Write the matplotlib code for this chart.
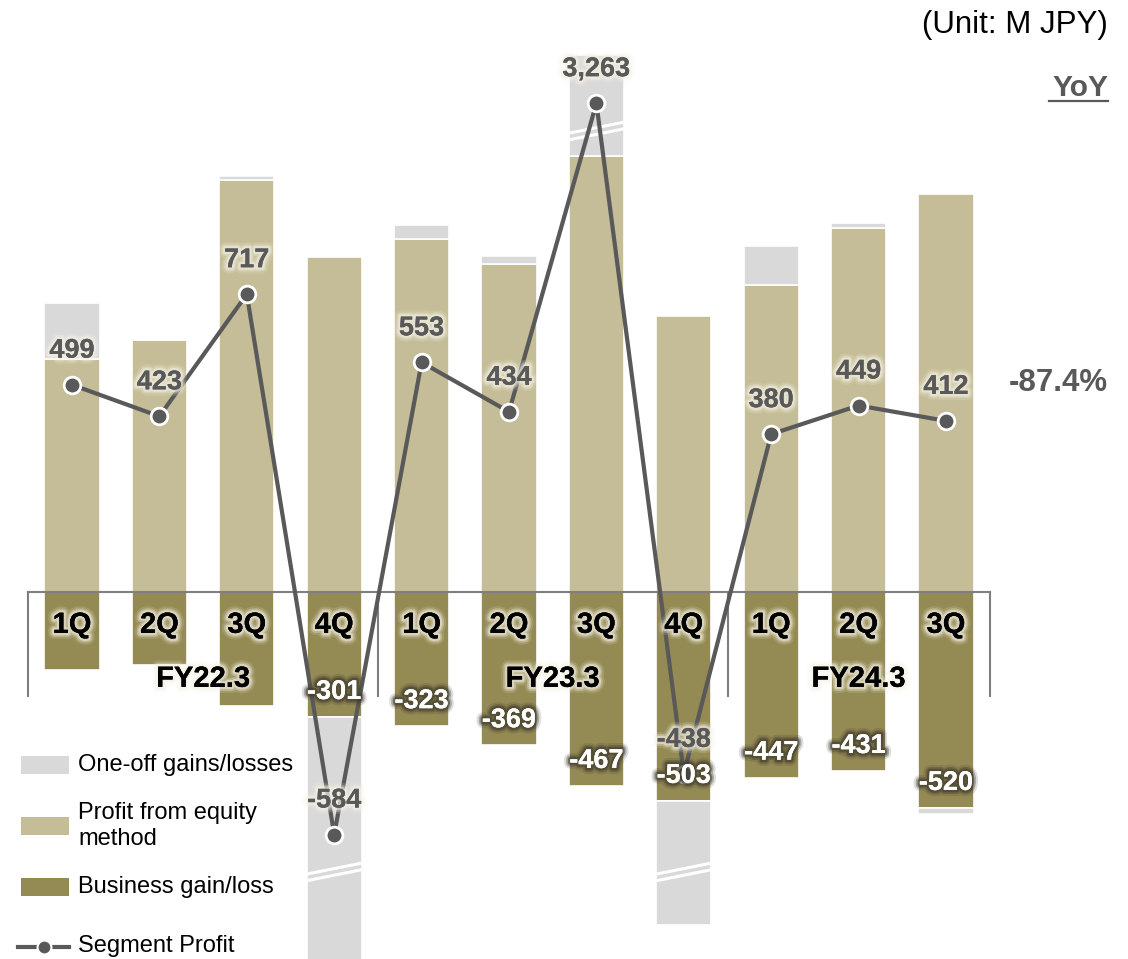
import numpy as np
import matplotlib
matplotlib.use("Agg")
import matplotlib.pyplot as plt
import matplotlib.patheffects as pe
from matplotlib.lines import Line2D
from matplotlib.patches import Rectangle

plt.rcParams["font.family"] = ["Liberation Sans", "DejaVu Sans"]

# quarterly figures, M JPY
quarters = ["1Q", "2Q", "3Q", "4Q", "1Q", "2Q", "3Q", "4Q", "1Q", "2Q", "3Q"]
years = ["FY22.3", "FY23.3", "FY24.3"]
year_len = [4, 4, 3]
business = [-188, -176, -275, -301, -323, -369, -467, -503, -447, -431, -520]
equity = [561, 607, 992, 807, 850, 790, 1050, 665, 739, 876, 958]
one_off = [135, 0, 10, -1090, 34, 19, 2680, -600, 94, 12, -15]
segment = [499, 423, 717, -584, 553, 434, 3263, -438, 380, 449, 412]
business_labeled = [False, False, False, True, True, True, True, True, True, True, True]
yoy = "-87.4%"

C_ONEOFF = "#D9D9D9"
C_EQUITY = "#C4BD97"
C_BUSINESS = "#948A54"
C_LINE = "#595959"
C_AXIS = "#7F7F7F"

# broken axis: values past the breaks are squeezed
BREAK_HI, K_HI = 1110, 0.0698
BREAK_LO, K_LO = -674, 0.298
LINE_CAP = 1177


def squash(v):
    v = np.asarray(v, dtype=float)
    out = v.copy()
    hi = v > BREAK_HI
    out[hi] = BREAK_HI + (v[hi] - BREAK_HI) * K_HI
    lo = v < BREAK_LO
    out[lo] = BREAK_LO + (v[lo] - BREAK_LO) * K_LO
    return out


def glow(color, strength=1.0):
    return [pe.withStroke(linewidth=9, foreground=color, alpha=0.15 * strength),
            pe.withStroke(linewidth=6, foreground=color, alpha=0.3 * strength),
            pe.withStroke(linewidth=3.5, foreground=color, alpha=0.5 * strength),
            pe.Normal()]


W, H = 1128, 959
fig = plt.figure(figsize=(W / 100, H / 100), dpi=100)
ax = fig.add_axes([0, 0, 1, 1])
ax.axis("off")
PX_X, X0 = 87.4, 72
PX_Y, Y0 = 0.4153, 592
ax.set_xlim(-X0 / PX_X, (W - X0) / PX_X)
ax.set_ylim(-(H - Y0) / PX_Y, Y0 / PX_Y)

x = np.arange(len(quarters))
bw = 0.63
business = np.array(business, float)
equity = np.array(equity, float)
one_off = np.array(one_off, float)
segment = np.array(segment, float)

# stacked pieces: (bottom, top) in data units before squashing
oo_bottom = np.where(one_off >= 0, equity, business)
oo_top = oo_bottom + one_off
pieces = [
    (np.zeros_like(business), business, C_BUSINESS),
    (np.zeros_like(equity), equity, C_EQUITY),
    (oo_bottom, oo_top, C_ONEOFF),
]
for lo_v, hi_v, col in pieces:
    b = squash(lo_v)
    t = squash(hi_v)
    ax.bar(x, t - b, bottom=b, width=bw, color=col, edgecolor="white",
           linewidth=1.2, zorder=2)

# break marks on the squeezed bars
top_all = np.maximum(oo_top, equity)
bot_all = np.minimum(oo_top, business)
rise, gap = 26.5, 16
for i in x:
    for brk, hit in ((BREAK_HI, top_all[i] > BREAK_HI), (BREAK_LO, bot_all[i] < BREAK_LO)):
        if not hit:
            continue
        for off in (-gap / 2, gap / 2):
            ax.plot([i - bw / 2, i + bw / 2], [brk + off - rise / 2, brk + off + rise / 2],
                    color="white", lw=2.2, solid_capstyle="butt", zorder=3)

# category axis
sep = np.concatenate([[0], np.cumsum(year_len)]) - 0.5
ax.plot([sep[0], sep[-1]], [0, 0], color=C_AXIS, lw=1.5, zorder=4)
for s in sep:
    ax.plot([s, s], [0, -250], color=C_AXIS, lw=1.5, zorder=4)

light = glow("#F6F3E6")
dark = glow("#3F3B2C", 1.1)

for i, q in enumerate(quarters):
    ax.text(i, -79, q, ha="center", va="center", fontsize=21, fontweight="bold",
            color="black", path_effects=light, zorder=6)
for k, name in enumerate(years):
    mid = (sep[k] + sep[k + 1]) / 2
    ax.text(mid, -209, name, ha="center", va="center", fontsize=21,
            fontweight="bold", color="black", path_effects=light, zorder=6)

# segment profit line
line_y = np.minimum(segment, LINE_CAP)
ax.plot(x, line_y, color=C_LINE, lw=3.0, zorder=5)
ax.plot(x, line_y, "o", color=C_LINE, ms=12, mec="white", mew=2.0, zorder=5.5)
for i, v in enumerate(segment):
    ax.annotate(f"{int(v):,}", (i, line_y[i]), xytext=(0, 24.5),
                textcoords="offset points", ha="center", va="center",
                fontsize=19.5, fontweight="bold", color=C_LINE,
                path_effects=light, zorder=7)

for i, v in enumerate(business):
    if business_labeled[i]:
        ax.annotate(f"{int(v):,}", (i, v), xytext=(0, 18),
                    textcoords="offset points", ha="center", va="center",
                    fontsize=19.5, fontweight="bold", color="white",
                    path_effects=dark, zorder=8)

# header texts
fig.text(1108 / W, 1 - 25 / H, "(Unit: M JPY)", ha="right", va="center",
         fontsize=22.5, color="black")
fig.text(1108 / W, 1 - 88 / H, "YoY", ha="right", va="center", fontsize=21.5,
         fontweight="bold", color=C_LINE)
fig.add_artist(Line2D([1049 / W, 1108 / W], [1 - 101 / H, 1 - 101 / H],
                      color=C_LINE, lw=1.6))
fig.text(1108 / W, 1 - 383 / H, yoy, ha="right", va="center", fontsize=22.5,
         fontweight="bold", color=C_LINE)

# legend
leg_items = [(C_ONEOFF, "One-off gains/losses", 765),
             (C_EQUITY, "Profit from equity\nmethod", 826),
             (C_BUSINESS, "Business gain/loss", 887)]
for col, label, yc in leg_items:
    fig.add_artist(Rectangle((21 / W, 1 - (yc + 9) / H), 48 / W, 18 / H,
                             facecolor=col, edgecolor="none"))
    fig.text(78 / W, 1 - yc / H, label, ha="left", va="center", fontsize=17,
             color="black", linespacing=1.25)
fig.add_artist(Line2D([18 / W, 69 / W], [1 - 947 / H, 1 - 947 / H], color=C_LINE,
                      lw=3.0))
fig.add_artist(Line2D([44 / W], [1 - 947 / H], marker="o", color=C_LINE, ms=10,
                      mec="white", mew=1.5))
fig.text(78 / W, 1 - 946 / H, "Segment Profit", ha="left", va="center",
         fontsize=17, color="black")

fig.savefig("out.png", dpi=100)
